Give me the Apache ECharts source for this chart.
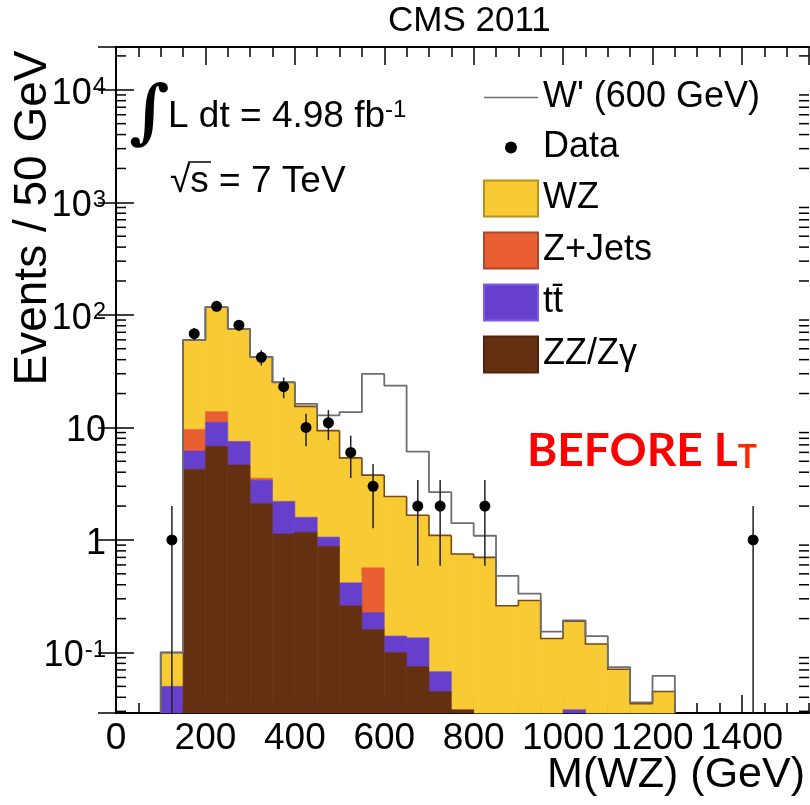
<!DOCTYPE html>
<html>
<head>
<meta charset="utf-8">
<script src="https://cdn.jsdelivr.net/npm/echarts@6/dist/echarts.min.js"></script>
<style>html,body{margin:0;padding:0;background:#fff}#c{width:810px;height:805px}</style>
</head>
<body>
<div id="c"></div>
<script>
// ---- data ----
const binLow = [100,150,200,250,300,350,400,450,500,550,600,650,700,750,800,850,900,950,1000,1050,1100,1150,1200];
const binWidth = 50;
const zzValues    = [0,4.25,6.8,4.64,2.11,1.13,1.17,0.88,0.26,0.16,0.10,0.075,0.045,0.031,0,0,0,0,0,0,0,0,0];
const ttValues    = [0.05,1.92,4.3,2.86,1.29,1.07,0.42,0.18,0.156,0.066,0.04,0.06,0.0225,0,0,0,0,0,0.031,0,0,0,0];
const zjetsValues = [0,3.43,2.7,0,0.14,0,0,0,0,0.34,0,0,0,0,0,0,0,0,0,0,0,0,0];
const wzValues    = [0.05,50.0,103,67.7,38.9,23.0,13.8,8.3,4.95,3.2,2.29,1.525,1.03,0.72,0.70,0.26,0.29,0.133,0.159,0.119,0.071,0.035,0.045];
const wprimeValues= [0.1,59.6,117,75.2,42.4,25.2,16.2,12.8,13.7,29.9,23.5,6.1,2.66,1.41,1.09,0.48,0.333,0.153,0.193,0.14,0.074,0.036,0.062];
const dataX   = [125,175,225,275,325,375,425,475,525,575,675,725,825,1425];
const dataN   = [1,68,119,81,42,23,10,11,6,3,2,2,2,1];
const dataErr = [1,8.2,10.9,9.0,6.5,4.8,3.2,3.3,2.45,1.73,1.41,1.41,1.41,1];
const xMin = 0, xMax = 1550, xMajor = 200, xMinor = 50;
const yMin = 0.029, yMax = 24000;
const yMinorMultipliers = [2,3,4,5,6,7,8,9];
const yDecades = [-2,-1,0,1,2,3,4];

const FONT = '"Liberation Sans", Arial, Helvetica, sans-serif';
const C_WZ = '#f8ca33', C_ZJ = '#ea5f32', C_TT = '#6640cc', C_ZZ = '#652f12', C_W = '#6e6e6e';

// ---- stacking ----
function cum(arrs, i) { let s = 0; for (const a of arrs) s += a[i]; return s; }
function stackItems(values, below) {
  return binLow.map((x, i) => {
    const b = cum(below, i);
    return [x, x + binWidth, b, b + values[i]];
  });
}
const zzItems = stackItems(zzValues, []);
const ttItems = stackItems(ttValues, [zzValues]);
const zjItems = stackItems(zjetsValues, [zzValues, ttValues]);
const wzItems = stackItems(wzValues, [zzValues, ttValues, zjetsValues]);
const totals = binLow.map((x, i) => cum([zzValues, ttValues, zjetsValues, wzValues], i));

function barRenderer(color, outline) {
  return function (params, api) {
    const x0 = api.value(0), x1 = api.value(1), b = api.value(2), t = api.value(3);
    const children = [];
    if (t > b && t > yMin) {
      const bb = Math.max(b, yMin);
      const p0 = api.coord([x0, t]);
      const p1 = api.coord([x1, bb]);
      children.push({
        type: 'rect',
        shape: { x: p0[0], y: p0[1], width: p1[0] - p0[0], height: p1[1] - p0[1] },
        style: { fill: color, stroke: color, lineWidth: 0.6 }
      });
    }
    if (outline) {
      const i = params.dataIndex;
      const prev = i === 0 ? yMin : Math.max(totals[i - 1], yMin);
      const top = Math.max(totals[i], yMin);
      const pts = [api.coord([x0, prev]), api.coord([x0, top]), api.coord([x1, top])];
      if (i === binLow.length - 1) pts.push(api.coord([x1, yMin]));
      children.push({
        type: 'polyline', z2: 10,
        shape: { points: pts },
        style: { fill: null, stroke: '#7a4a14', lineWidth: 1.6 }
      });
    }
    return { type: 'group', children };
  };
}

// W' step line
const wLine = [[binLow[0], yMin]]
  .concat(binLow.map((x, i) => [x, wprimeValues[i]]))
  .concat([[binLow[binLow.length - 1] + binWidth, wprimeValues[wprimeValues.length - 1]],
           [binLow[binLow.length - 1] + binWidth, yMin]]);

// data points
const dataItems = dataX.map((x, i) => [x, dataN[i], dataErr[i]]);

// y minor ticks (axis decoration)
const yMinorTicks = [];
yDecades.forEach(d => yMinorMultipliers.forEach(m => {
  const v = m * Math.pow(10, d);
  if (v > yMin && v < yMax) yMinorTicks.push([xMin, v]);
}));

const chart = echarts.init(document.getElementById('c'), null, { renderer: 'canvas' });

const tickStyle = { color: '#000', width: 1.5 };
const xBase = { type: 'value', min: xMin, max: xMax, splitLine: { show: false } };

chart.setOption({
  animation: false,
  backgroundColor: '#fff',
  title: {
    text: 'CMS 2011', left: 388, top: 4, padding: 0,
    textStyle: { fontFamily: FONT, fontSize: 35, fontWeight: 'normal', color: '#000' }
  },
  grid: { left: 116, right: 1, top: 47, bottom: 92, containLabel: false, outerBoundsMode: 'none' },
  legend: {
    orient: 'vertical', left: 483, top: 79.5, itemWidth: 54, itemHeight: 36, itemGap: 14,
    selectedMode: false, padding: 0,
    textStyle: { fontFamily: FONT, fontSize: 36, color: '#000', lineHeight: 36 },
    data: [
      { name: "W' (600 GeV)", icon: 'path://M0,0M54,36M0,17.2L54,17.2L54,18.8L0,18.8Z', itemStyle: { color: C_W, borderWidth: 0 } },
      { name: 'Data', icon: 'path://M0,0M54,36M33,18A6,6,0,1,1,21,18A6,6,0,1,1,33,18Z' },
      { name: 'WZ', icon: 'rect' },
      { name: 'Z+Jets', icon: 'rect' },
      { name: 'tt\u0304', icon: 'rect' },
      { name: 'ZZ/Z\u03b3', icon: 'rect' }
    ]
  },
  xAxis: [
    Object.assign({}, xBase, {
      position: 'bottom', interval: xMajor,
      axisLine: { show: true, lineStyle: { color: '#000', width: 2 } },
      axisTick: { show: true, inside: true, length: 18, lineStyle: tickStyle },
      axisLabel: { show: true, fontFamily: FONT, fontSize: 37, color: '#000', margin: 7, showMaxLabel: false,
        formatter: function (v) { return String(v); } },
      name: 'M(WZ) (GeV)', nameLocation: 'end', nameGap: -4, nameMoveOverlap: false,
      nameTextStyle: { fontFamily: FONT, fontSize: 43, color: '#000', align: 'right', verticalAlign: 'top', padding: [41, 0, 0, 0] }
    }),
    Object.assign({}, xBase, {
      position: 'bottom', interval: xMinor,
      axisLine: { show: false }, axisLabel: { show: false },
      axisTick: { show: true, inside: true, length: 10, lineStyle: tickStyle }
    }),
    Object.assign({}, xBase, {
      position: 'top', interval: xMajor,
      axisLine: { show: true, lineStyle: { color: '#000', width: 2 } }, axisLabel: { show: false },
      axisTick: { show: true, inside: true, length: 18, lineStyle: tickStyle }
    }),
    Object.assign({}, xBase, {
      position: 'top', interval: xMinor,
      axisLine: { show: false }, axisLabel: { show: false },
      axisTick: { show: true, inside: true, length: 10, lineStyle: tickStyle }
    })
  ],
  yAxis: [
    {
      type: 'log', logBase: 10, min: yMin, max: yMax, position: 'left',
      splitLine: { show: false },
      axisLine: { show: true, lineStyle: { color: '#000', width: 2 } },
      axisTick: { show: true, inside: true, length: 18, lineStyle: tickStyle },
      axisLabel: {
        show: true, fontFamily: FONT, fontSize: 36, color: '#000', margin: 10,
        showMinLabel: false, showMaxLabel: false, padding: [8, 0, 0, 0],
        formatter: function (v) {
          const k = Math.round(Math.log10(v));
          if (k === 0) return '1';
          if (k === 1) return '10';
          return '10{s|' + k + '}';
        },
        rich: { s: { fontFamily: FONT, fontSize: 24, color: '#000', verticalAlign: 'top', padding: [0, 0, 0, 1] } }
      }
    },
    {
      type: 'log', logBase: 10, min: yMin, max: yMax, position: 'right',
      splitLine: { show: false },
      axisLine: { show: true, lineStyle: { color: '#000', width: 2 } },
      axisTick: { show: true, inside: true, length: 18, lineStyle: tickStyle },
      axisLabel: { show: false }
    }
  ],
  series: [
    { type: 'custom', name: 'WZ', data: wzItems, encode: { x: [0, 1], y: [2, 3] }, z: 2,
      itemStyle: { color: C_WZ, borderColor: '#b8901e', borderWidth: 1 }, renderItem: barRenderer(C_WZ, true) },
    { type: 'custom', name: 'Z+Jets', data: zjItems, encode: { x: [0, 1], y: [2, 3] }, z: 2,
      itemStyle: { color: C_ZJ, borderColor: '#b0472a', borderWidth: 1 }, renderItem: barRenderer(C_ZJ, false) },
    { type: 'custom', name: 'tt\u0304', data: ttItems, encode: { x: [0, 1], y: [2, 3] }, z: 2,
      itemStyle: { color: C_TT, borderColor: '#7c5ee0', borderWidth: 1 }, renderItem: barRenderer(C_TT, false) },
    { type: 'custom', name: 'ZZ/Z\u03b3', data: zzItems, encode: { x: [0, 1], y: [2, 3] }, z: 2,
      itemStyle: { color: C_ZZ, borderColor: '#4e230c', borderWidth: 1 }, renderItem: barRenderer(C_ZZ, false) },
    { type: 'line', name: "W' (600 GeV)", data: wLine, step: 'end', symbol: 'none', showSymbol: false, z: 4,
      lineStyle: { color: C_W, width: 1.8 }, itemStyle: { color: C_W, borderWidth: 0 } },
    { type: 'custom', name: 'Data', data: dataItems, encode: { x: 0, y: 1 }, z: 6,
      itemStyle: { color: '#000' },
      renderItem: function (params, api) {
        const x = api.value(0), n = api.value(1), e = api.value(2);
        const lo = Math.max(n - e, yMin), hi = n + e;
        const pc = api.coord([x, n]), pl = api.coord([x, lo]), ph = api.coord([x, hi]);
        return { type: 'group', children: [
          { type: 'line', shape: { x1: ph[0], y1: ph[1], x2: pl[0], y2: pl[1] }, style: { stroke: '#222', lineWidth: 1.5 } },
          { type: 'circle', shape: { cx: pc[0], cy: pc[1], r: 5.5 }, style: { fill: '#000' } }
        ] };
      } },
    { type: 'custom', name: 'yMinorTicks', data: yMinorTicks, encode: { x: 0, y: 1 }, z: 7, silent: true,
      renderItem: function (params, api) {
        const p = api.coord([api.value(0), api.value(1)]);
        const cs = params.coordSys;
        return { type: 'group', children: [
          { type: 'line', shape: { x1: cs.x, y1: p[1], x2: cs.x + 10, y2: p[1] }, style: { stroke: '#000', lineWidth: 1.5 } },
          { type: 'line', shape: { x1: cs.x + cs.width - 10, y1: p[1], x2: cs.x + cs.width, y2: p[1] }, style: { stroke: '#000', lineWidth: 1.5 } }
        ] };
      } }
  ],
  graphic: [
    { type: 'text', x: 33, y: 218, rotation: Math.PI / 2,
      style: { text: 'Events / 50 GeV', fontFamily: FONT, fontSize: 46, fill: '#000', align: 'center', verticalAlign: 'middle' } },
    { type: 'text', x: 129, y: 117,
      style: { text: '\u222b', fontFamily: '"DejaVu Serif", "Liberation Serif", serif', fontWeight: 'bold', fontSize: 70, fill: '#000', align: 'left', verticalAlign: 'middle' } },
    { type: 'text', x: 168, y: 117,
      style: { text: 'L dt = 4.98 fb{s|-1}', fontFamily: FONT, fontSize: 37, fill: '#000', align: 'left', verticalAlign: 'middle',
        rich: { s: { fontFamily: FONT, fontSize: 24, fill: '#000', verticalAlign: 'top' } } } },
    { type: 'text', x: 170, y: 182,
      style: { text: '\u221as = 7 TeV', fontFamily: FONT, fontSize: 37, fill: '#000', align: 'left', verticalAlign: 'middle' } },
    { type: 'line', shape: { x1: 188, y1: 162, x2: 211, y2: 162 }, style: { stroke: '#000', lineWidth: 1.5 } },
    { type: 'text', x: 527, y: 451,
      style: { text: 'BEFORE L{t|T}', fontFamily: 'Lato, "Open Sans", sans-serif', fontWeight: 'bold', fontSize: 46, fill: '#ff0000', align: 'left', verticalAlign: 'middle',
        rich: { t: { fontFamily: 'Lato, "Open Sans", sans-serif', fontWeight: 'bold', fontSize: 32, fill: '#ff2a00', verticalAlign: 'bottom' } } } }
  ]
});
</script>
</body>
</html>
